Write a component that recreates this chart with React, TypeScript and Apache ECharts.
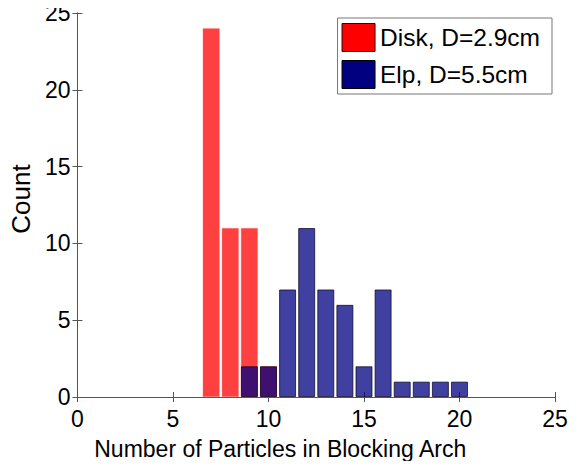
import React, { useEffect, useRef } from "react";
import * as echarts from "echarts";

const diskBins = [7, 8, 9, 10];
const diskCounts = [24, 11, 11, 2];
const elpBins = [9, 10, 11, 12, 13, 14, 15, 16, 17, 18, 19, 20];
const elpCounts = [2, 2, 7, 11, 7, 6, 2, 7, 1, 1, 1, 1];
const seriesNames = ["Disk, D=2.9cm", "Elp, D=5.5cm"];
const xTitle = "Number of Particles in Blocking Arch";
const yTitle = "Count";

export default function App() {
  const ref = useRef<HTMLDivElement>(null);
  useEffect(() => {
    if (!ref.current) return;
    const chart = echarts.init(ref.current, null, { renderer: "svg" });
    const font = "'Liberation Sans', Arial, Helvetica, sans-serif";
    const axisCommon = {
      type: "value" as const,
      min: 0,
      max: 25,
      interval: 5,
      splitLine: { show: false },
      axisLine: { show: true, lineStyle: { color: "#555", width: 1 } },
      axisTick: { show: true, inside: true, length: 5, lineStyle: { color: "#555" } },
    };
    chart.setOption({
      animation: false,
      backgroundColor: "#fff",
      textStyle: { fontFamily: font },
      grid: { left: 76, right: 28, top: 13, bottom: 72, containLabel: false },
      legend: {
        orient: "vertical",
        right: 31,
        top: 18,
        padding: [5, 12, 5, 4],
        itemGap: 8,
        itemWidth: 33,
        itemHeight: 28,
        borderColor: "#777",
        borderWidth: 1,
        backgroundColor: "#fff",
        textStyle: { fontSize: 24.5, lineHeight: 28, color: "#000", fontFamily: font },
        data: [
          { name: seriesNames[0], icon: "rect", itemStyle: { color: "#ff0000", borderColor: "#300", borderWidth: 1, opacity: 1 } },
          { name: seriesNames[1], icon: "rect", itemStyle: { color: "#000080", borderColor: "#000", borderWidth: 1, opacity: 1 } },
        ],
      },
      xAxis: [
        {
          ...axisCommon,
          position: "bottom",
          name: xTitle,
          nameLocation: "middle",
          nameGap: 40,
          nameTextStyle: { fontSize: 23, color: "#000", fontFamily: font, padding: [0, 72, 0, 0] },
          axisLabel: { fontSize: 23, color: "#000", margin: 10, fontFamily: font },
        },
        {
          ...axisCommon,
          position: "top",
          axisLabel: { show: false },
        },
      ],
      yAxis: [
        {
          ...axisCommon,
          position: "left",
          name: yTitle,
          nameLocation: "middle",
          nameGap: 40,
          nameTextStyle: { fontSize: 26, color: "#000", fontFamily: font, padding: [0, 0, 0, 12] },
          axisLabel: { fontSize: 23, color: "#000", margin: 7, fontFamily: font },
        },
        {
          ...axisCommon,
          position: "right",
          axisLabel: { show: false },
        },
      ],
      series: [
        {
          name: seriesNames[0],
          type: "bar",
          xAxisIndex: 0,
          yAxisIndex: 0,
          barWidth: 17,
          barGap: "-100%",
          itemStyle: { color: "rgba(255,0,0,0.75)", borderColor: "rgba(255,120,120,0.6)", borderWidth: 0.5 },
          data: diskBins.map((b, i) => [b, diskCounts[i]]),
        },
        {
          name: seriesNames[1],
          type: "bar",
          xAxisIndex: 0,
          yAxisIndex: 0,
          barWidth: 17,
          barGap: "-100%",
          itemStyle: { color: "rgba(0,0,128,0.75)", borderColor: "rgba(0,0,30,0.7)", borderWidth: 1 },
          data: elpBins.map((b, i) => [b, elpCounts[i]]),
        },
      ],
    });
    return () => chart.dispose();
  }, []);
  return <div ref={ref} style={{ width: 583, height: 469, margin: -8 }} />;
}
